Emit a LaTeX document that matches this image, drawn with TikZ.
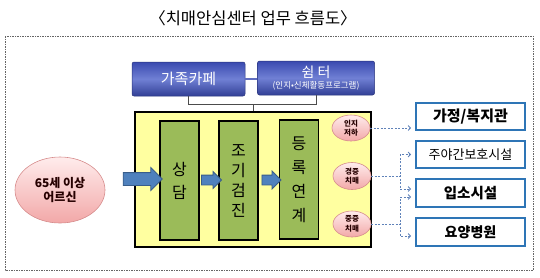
\documentclass[tikz,border=0pt]{standalone}
\usepackage{fontspec}
\setmainfont{Noto Sans CJK KR}
\usetikzlibrary{shapes.geometric,shapes.arrows,arrows.meta}

\definecolor{cafeblue}{RGB}{58,74,176}
\definecolor{cafelight}{RGB}{112,128,212}
\definecolor{paleyellow}{RGB}{255,255,160}
\definecolor{olivegreen}{RGB}{155,187,89}
\definecolor{flowblue}{RGB}{79,129,189}
\definecolor{flowedge}{RGB}{56,93,138}
\definecolor{pinkedge}{RGB}{214,140,140}
\definecolor{pinklight}{RGB}{255,236,236}
\definecolor{pinkdark}{RGB}{242,168,168}
\definecolor{boxblue}{RGB}{46,117,182}
\definecolor{linkblue}{RGB}{95,130,185}

\tikzset{
  topbox/.style={rectangle, rounded corners=2pt, draw=cafeblue!70!black, line width=0.5pt,
    top color=cafeblue, bottom color=cafeblue!85!black, middle color=cafelight,
    text=white, inner sep=0pt, align=center},
  stage/.style={rectangle, draw=black, line width=1.6pt, fill=olivegreen, inner sep=0pt,
    minimum width=39, minimum height=119, align=center},
  flowarrow/.style={single arrow, draw=flowedge, line width=0.8pt, fill=flowblue, inner sep=0pt},
  pinkell/.style={ellipse, draw=pinkedge, line width=0.6pt, inner sep=0pt,
    top color=pinklight, bottom color=pinkdark, text=black!85!red, align=center},
  dest/.style={rectangle, draw=boxblue, line width=1.8pt, fill=white, inner sep=0pt,
    minimum width=109, align=center},
  link/.style={draw=linkblue, line width=0.8pt, dash pattern=on 2pt off 1.5pt,
    -{Straight Barb[length=2.5pt,width=5pt]}, shorten >=4pt},
  bracket/.style={draw=black!70, line width=0.7pt}
}

\begin{document}
\begin{tikzpicture}[x=1pt, y=-1pt]
  \useasboundingbox (0,0) rectangle (540,277);

  % Title and outer frame
  \node[font=\fontsize{16.5}{18}\selectfont] (title) at (253,18) {〈치매안심센터 업무 흐름도〉};
  \draw[black!60, line width=0.6pt, dash pattern=on 1.5pt off 1pt] (5,36) rectangle (533,270);

  % Top boxes
  \node[topbox, minimum width=113, minimum height=34, font=\fontsize{15}{18}\selectfont] (cafe) at (188.5,79) {가족카페};
  \node[topbox, minimum width=117, minimum height=34] (shelter) at (316,78)
    {{\fontsize{14}{14}\selectfont 쉼 터}\\[-1pt]{\fontsize{8.5}{10}\selectfont (인지•신체활동프로그램)}};
  \draw[cafeblue!80, line width=1.2pt] (cafe.east) -- (shelter.west |- cafe.east);

  % Center block
  \node[rectangle, draw=black, line width=1.2pt, fill=paleyellow, minimum width=236, minimum height=135] (center) at (253,179.5) {};
  \draw[bracket] (cafe.south) -- ++(0,8) coordinate (bl) -| (shelter.south);
  \draw[bracket] (center.north) -- (center.north |- bl);

  \node[stage, font=\fontsize{16}{23}\selectfont] (counsel) at (179.5,180.5) {상\\담};
  \node[stage, font=\fontsize{16}{20}\selectfont] (screen) at (238.5,180.5) {조\\기\\검\\진};
  \node[stage, font=\fontsize{16}{24}\selectfont] (register) at (299,179.5) {등\\록\\연\\계};

  % Elderly and flow arrows
  \node[pinkell, minimum width=90, minimum height=66, font=\bfseries\fontsize{12}{14}\selectfont] (elder) at (60,190) {65세 이상\\어르신};
  \node[flowarrow, minimum height=39, single arrow head extend=5pt] (a0) at (139.5,179) {\rule{0pt}{12pt}};
  \node[flowarrow, minimum height=20, single arrow head extend=3.5pt] (a1) at (209,180) {\rule{0pt}{9pt}};
  \node[flowarrow, minimum height=19, single arrow head extend=4pt] (a2) at (269,180) {\rule{0pt}{9pt}};

  % Condition ellipses
  \node[pinkell, minimum width=38, minimum height=26, font=\bfseries\fontsize{7.5}{9.5}\selectfont] (cog) at (351,128) {인지\\저하};
  \node[pinkell, minimum width=38, minimum height=27, font=\bfseries\fontsize{7.5}{9.5}\selectfont] (mild) at (352,176) {경증\\치매};
  \node[pinkell, minimum width=38, minimum height=26, font=\bfseries\fontsize{7.5}{9.5}\selectfont] (severe) at (352,224) {중증\\치매};

  % Destinations
  \node[dest, minimum height=27, font=\bfseries\fontsize{15}{18}\selectfont] (home) at (470.5,116.5) {가정/복지관};
  \node[dest, minimum height=27, font=\fontsize{13}{16}\selectfont] (daycare) at (470.5,154.5) {주야간보호시설};
  \node[dest, minimum height=28, font=\bfseries\fontsize{14.5}{18}\selectfont] (facility) at (470.5,193) {입소시설};
  \node[dest, minimum height=28, font=\bfseries\fontsize{14}{18}\selectfont] (hospital) at (470.5,232) {요양병원};

  \draw[link] (cog.east) -- (cog.east -| home.west);
  \draw[link] (mild.east) -- ++(29,0) |- (daycare.west);
  \draw[link] (mild.east) -- ++(29,0) |- ([yshift=4pt]facility.west);
  \draw[link] (severe.east) -- ++(29,0) |- ([yshift=-4pt]facility.west);
  \draw[link] (severe.east) -- ++(29,0) |- ([yshift=-4pt]hospital.west);
\end{tikzpicture}
\end{document}
